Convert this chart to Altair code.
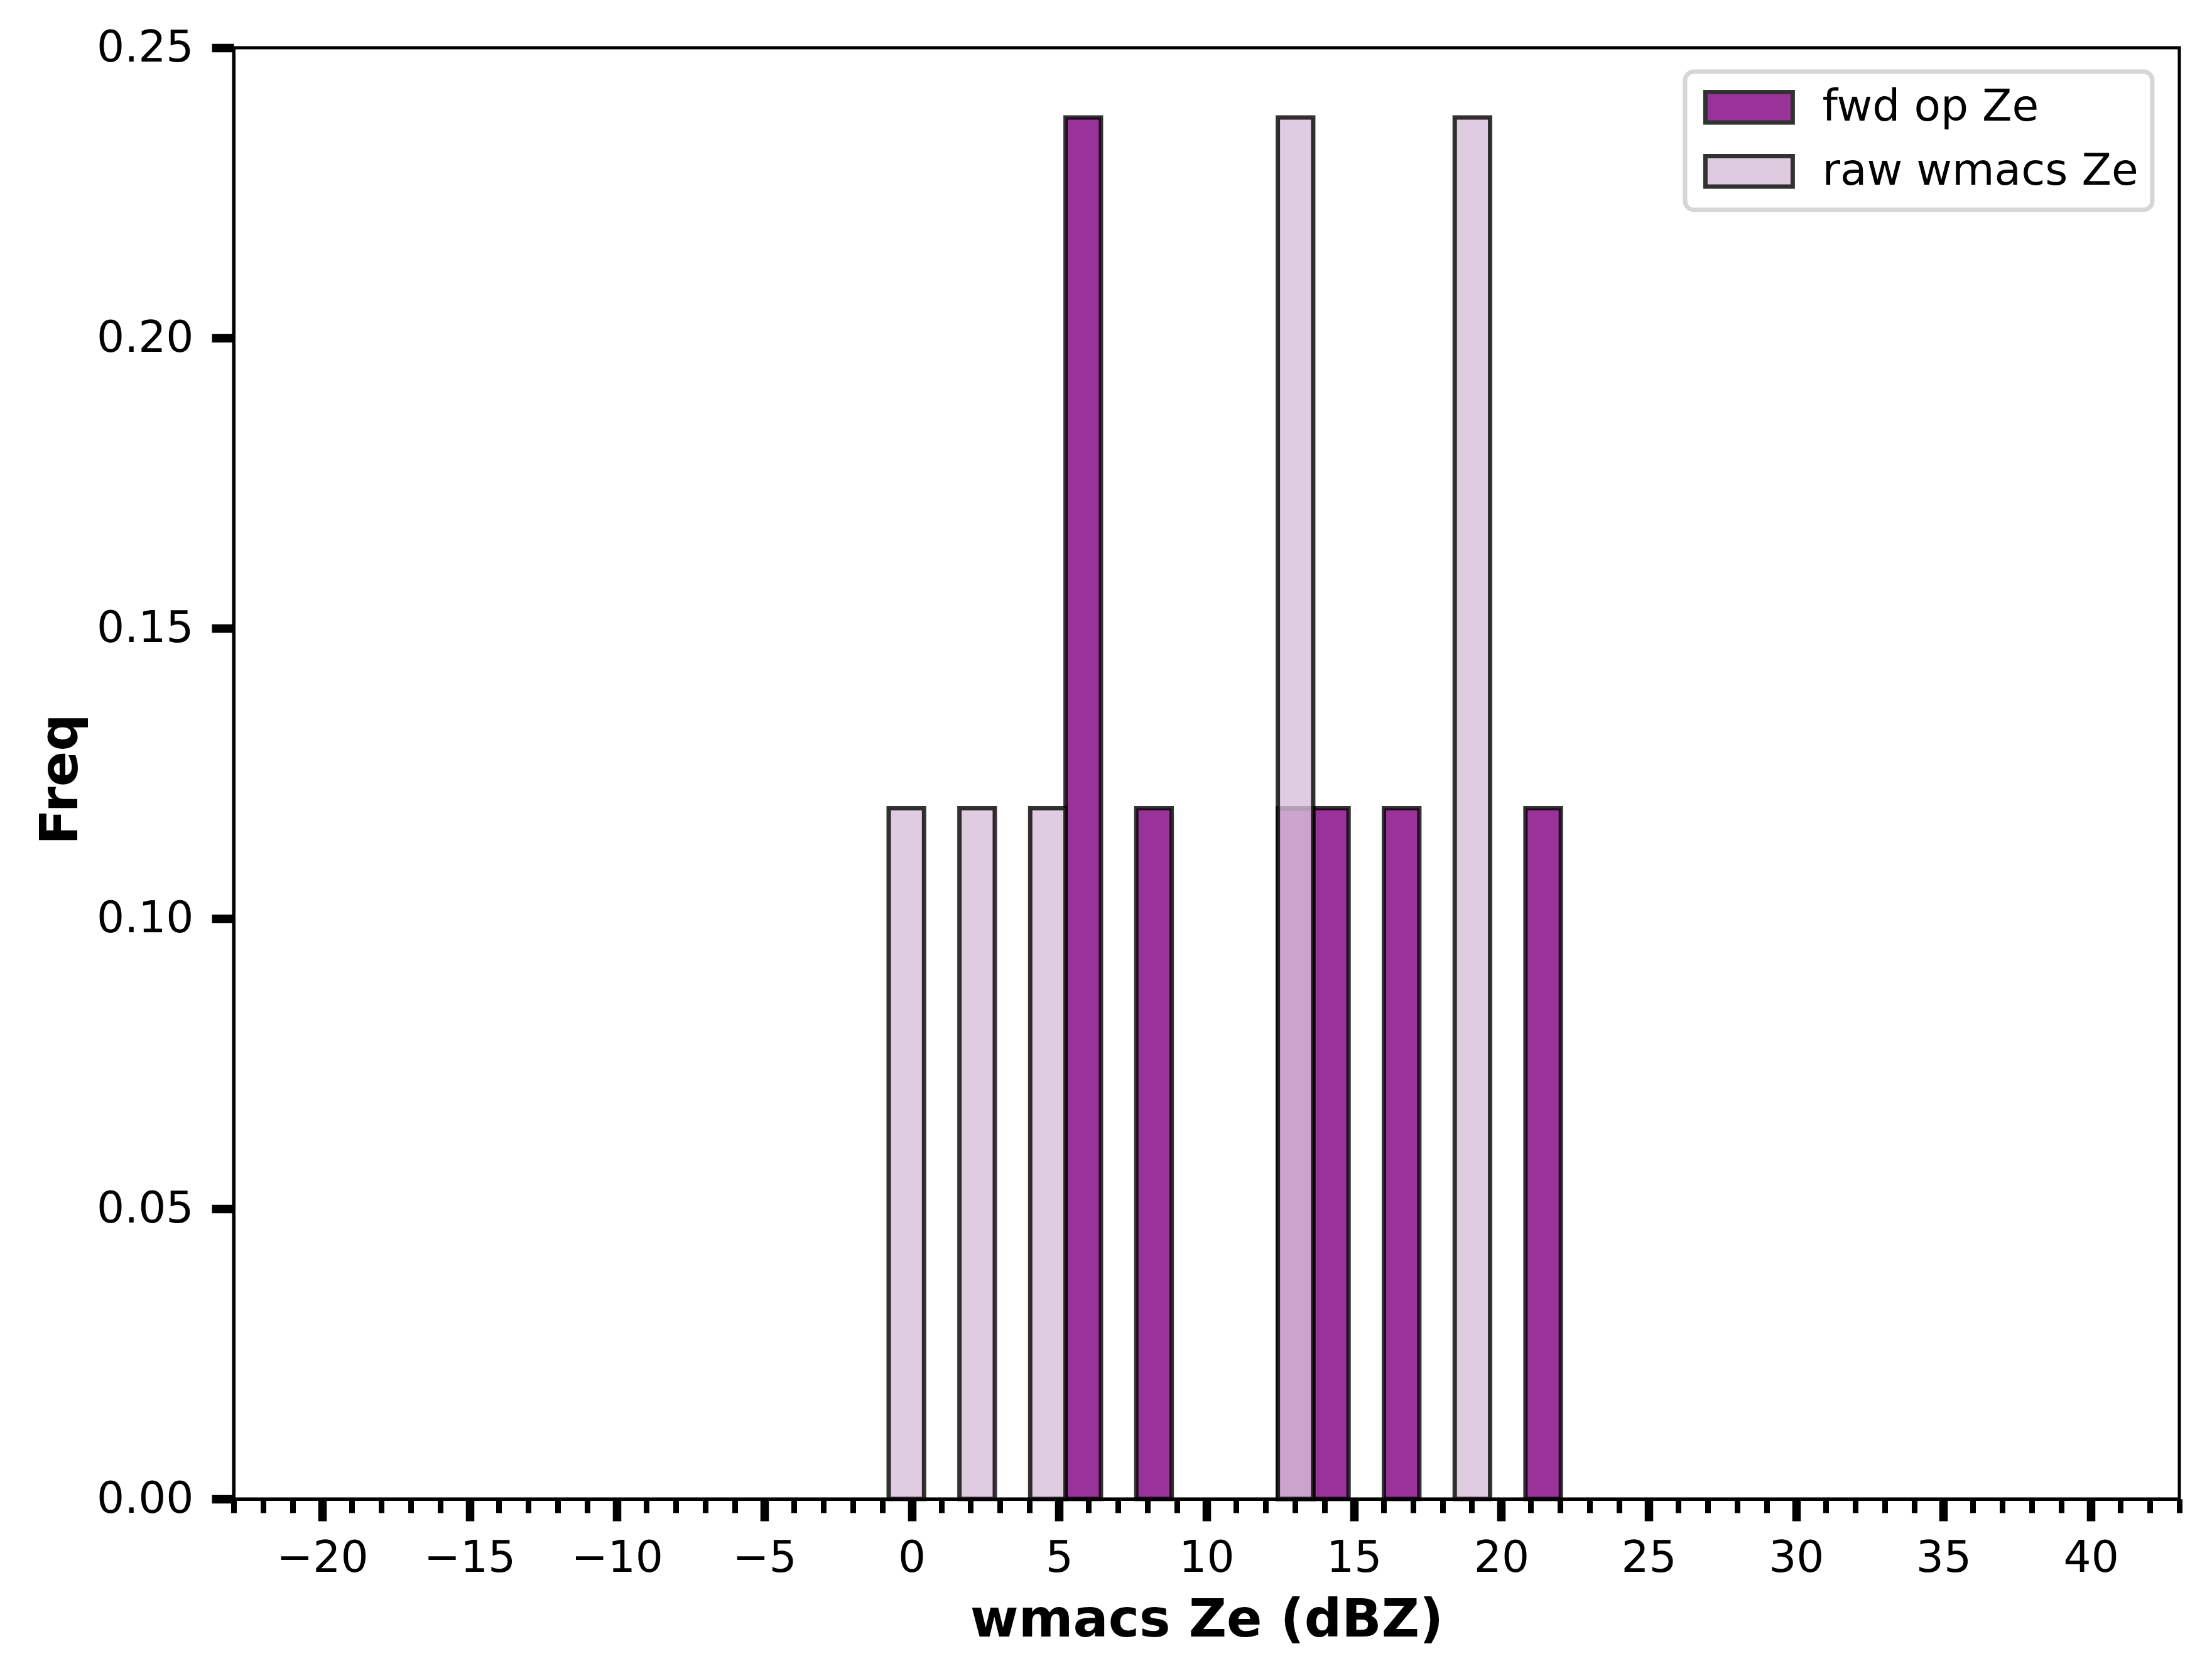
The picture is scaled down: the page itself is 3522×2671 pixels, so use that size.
import altair as alt
import pandas as pd

# ---- data ----
bin_edges = [-0.78, 0.42, 1.62, 2.82, 4.02, 5.22, 6.42, 7.62, 8.82, 10.02,
             11.22, 12.42, 13.62, 14.82, 16.02, 17.22, 18.42, 19.62, 20.82, 22.02]
fwd_freq = [0, 0, 0, 0, 0, 0.238, 0, 0.119, 0, 0,
            0, 0.119, 0.119, 0, 0.119, 0, 0, 0, 0.119]
raw_freq = [0.119, 0, 0.119, 0, 0.119, 0, 0, 0, 0, 0,
            0, 0.238, 0, 0, 0, 0, 0.238, 0, 0]
series_names = ["fwd op Ze", "raw wmacs Ze"]
series_colors = ["#800080", "#D8BFD8"]
x_major_ticks = list(range(-20, 41, 5))
x_minor_ticks = list(range(-23, 44))
y_ticks = [0.0, 0.05, 0.10, 0.15, 0.20, 0.25]
x_title = "wmacs Ze (dBZ)"
y_title = "Freq"

rows = []
for name, freqs in zip(series_names, [fwd_freq, raw_freq]):
    for i, f in enumerate(freqs):
        rows.append({"series": name, "start": bin_edges[i],
                     "end": bin_edges[i + 1], "freq": f})
df = pd.DataFrame(rows)

FONT = "DejaVu Sans"
TICK_FS = 69.4
TITLE_FS = 83.3

xscale = alt.Scale(domain=[-23, 43], nice=False, zero=False)
yscale = alt.Scale(domain=[0, 0.25], nice=False, zero=False)

major_x_axis = alt.Axis(
    values=x_major_ticks, orient="bottom", tickSize=35, tickWidth=13.5,
    labelFontSize=TICK_FS, labelPadding=25, labelFlush=False,
    labelOverlap=False, title=x_title, titleFontSize=TITLE_FS,
    titleFontWeight="bold", titleBaseline="alphabetic", titleY=218,
    grid=False, domainWidth=5, zindex=2,
)
minor_x_axis = alt.Axis(
    values=x_minor_ticks, orient="bottom", tickSize=22, tickWidth=9,
    labels=False, domain=False, title=None, grid=False, zindex=1,
)
y_axis = alt.Axis(
    values=y_ticks, format=".2f", tickSize=35, tickWidth=13.5,
    labelFontSize=TICK_FS, labelPadding=29, labelFlush=False,
    title=y_title, titleFontSize=TITLE_FS, titleFontWeight="bold",
    titleBaseline="alphabetic", titleX=-250, titleY=1164, titleAngle=270,
    titleAlign="center", grid=False, domainWidth=5, zindex=2,
)

legend = alt.Legend(
    title=None, orient="none", legendX=2311, legendY=38,
    symbolType="M-1,-1H4.72V1H-1Z", symbolSize=2362,
    symbolStrokeColor="black", symbolStrokeWidth=7, symbolOpacity=0.8,
    labelFont=FONT, labelFontSize=TICK_FS, labelOffset=127, labelLimit=2000,
    rowPadding=24, padding=22, strokeColor="#d6d6d6", fillColor="white",
    cornerRadius=14,
)

minor = alt.Chart(df).mark_point(opacity=0).encode(
    x=alt.X("start:Q", scale=xscale, axis=minor_x_axis),
)

bars = alt.Chart(df).transform_filter(alt.datum.freq > 0).mark_rect(
    fillOpacity=0.8, stroke="black", strokeOpacity=0.8, strokeWidth=7
).encode(
    x=alt.X("start:Q", scale=xscale, axis=major_x_axis),
    x2="end:Q",
    y=alt.Y("freq:Q", scale=yscale, axis=y_axis),
    y2=alt.datum(0),
    fill=alt.Fill("series:N",
                  scale=alt.Scale(domain=series_names, range=series_colors),
                  legend=legend),
)

chart = alt.layer(minor, bars).resolve_axis(x="independent").properties(
    width=3098, height=2310,
    padding={"left": 364, "top": 68, "right": 40, "bottom": 250},
    autosize=alt.AutoSizeParams(type="none"),
    background="white",
).configure_view(
    stroke="black", strokeWidth=5
).configure_axis(
    labelFont=FONT, titleFont=FONT, labelColor="black", titleColor="black",
    tickColor="black", domainColor="black",
).configure_legend(
    strokeWidth=7,
)

chart.save("out.html", embed_options={"renderer": "svg", "actions": False})
